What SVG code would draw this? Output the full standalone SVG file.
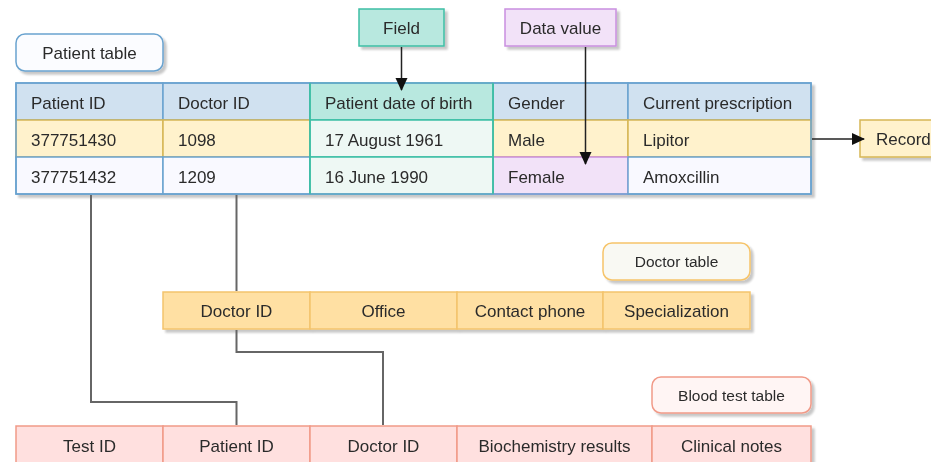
<svg xmlns="http://www.w3.org/2000/svg" width="931" height="462" viewBox="0 0 931 462">
  <defs>
    <filter id="shadow" x="-5%" y="-5%" width="115%" height="130%">
      <feGaussianBlur in="SourceAlpha" stdDeviation="1.2"/>
      <feOffset dx="2.5" dy="2.5" result="off"/>
      <feComponentTransfer><feFuncA type="linear" slope="0.22"/></feComponentTransfer>
      <feMerge><feMergeNode/><feMergeNode in="SourceGraphic"/></feMerge>
    </filter>
    <marker id="arrow" viewBox="0 0 13 13" refX="12" refY="6.5" markerWidth="13" markerHeight="13" markerUnits="userSpaceOnUse" orient="auto">
      <path d="M0,0.5 L13,6.5 L0,12.5 Z" fill="#111"/>
    </marker>
  </defs>
  <style>
    text { font-family: "Liberation Sans", Arial, sans-serif; font-size: 17px; fill: #2b2b2b; }
    .c { text-anchor: middle; }
    .small { font-size: 15.5px; }
    .hdr { fill: #d0e1f0; stroke: #6aa3cf; stroke-width: 1.5; }
    .r1 { fill: #fff2cc; stroke: #d6b656; stroke-width: 1.5; }
    .r2 { fill: #f9f9ff; stroke: #6aa3cf; stroke-width: 1.5; }
    .tealH { fill: #b8e8df; stroke: #3dbea5; stroke-width: 1.5; }
    .tealB { fill: #eef8f4; stroke: #3dbea5; stroke-width: 1.5; }
    .purp { fill: #f2e2f8; stroke: #c98fdf; stroke-width: 1.5; }
    .doc { fill: #ffe0a3; stroke: #f4c46c; stroke-width: 1.5; }
    .docL { fill: #f9f9f3; stroke: #f6c46a; stroke-width: 1.5; }
    .blood { fill: #ffe0df; stroke: #f19a88; stroke-width: 1.5; }
    .bloodL { fill: #fff5f4; stroke: #f19a88; stroke-width: 1.5; }
    .patL { fill: #fbfcff; stroke: #6aa3cf; stroke-width: 1.5; }
    .link { fill: none; stroke: #666; stroke-width: 2; }
    .arr { fill: none; stroke: #222; stroke-width: 1.5; marker-end: url(#arrow); }
  </style>

  <!-- patient table caption -->
  <g id="patient-label" filter="url(#shadow)">
    <rect class="patL" x="16" y="34" width="147" height="37" rx="9"/>
    <text class="c" x="89.5" y="58.5">Patient table</text>
  </g>

  <!-- callouts -->
  <g id="field" filter="url(#shadow)">
    <rect class="tealH" x="359" y="9" width="85" height="37"/>
    <text class="c" x="401.5" y="33.5">Field</text>
  </g>
  <g id="data-value" filter="url(#shadow)">
    <rect class="purp" x="505" y="9" width="111" height="37"/>
    <text class="c" x="560.5" y="33.5">Data value</text>
  </g>
  <g id="record" filter="url(#shadow)">
    <rect class="r1" x="860" y="120" width="80" height="37"/>
    <text x="876" y="145">Record</text>
  </g>

  <!-- patient table -->
  <g id="patient-table" filter="url(#shadow)">
    <rect class="hdr" x="16" y="83" width="147" height="37"/>
    <rect class="hdr" x="163" y="83" width="147" height="37"/>
    <rect class="hdr" x="493" y="83" width="135" height="37"/>
    <rect class="hdr" x="628" y="83" width="183" height="37"/>
    <rect class="r1" x="16" y="120" width="147" height="37"/>
    <rect class="r1" x="163" y="120" width="147" height="37"/>
    <rect class="r1" x="493" y="120" width="135" height="37"/>
    <rect class="r1" x="628" y="120" width="183" height="37"/>
    <rect class="r2" x="16" y="157" width="147" height="37"/>
    <rect class="r2" x="163" y="157" width="147" height="37"/>
    <rect class="purp" x="493" y="157" width="135" height="37"/>
    <rect class="r2" x="628" y="157" width="183" height="37"/>
    <rect class="tealH" x="310" y="83" width="183" height="37"/>
    <rect class="tealB" x="310" y="120" width="183" height="37"/>
    <rect class="tealB" x="310" y="157" width="183" height="37"/>
    <rect x="16" y="83" width="795" height="111" fill="none" stroke="#6aa3cf" stroke-width="1.5"/>
    <line x1="310" y1="83" x2="310" y2="194" stroke="#3dbea5" stroke-width="1.5"/>
    <line x1="493" y1="83" x2="493" y2="194" stroke="#3dbea5" stroke-width="1.5"/>
    <text x="31" y="108.5">Patient ID</text>
    <text x="178" y="108.5">Doctor ID</text>
    <text x="325" y="108.5">Patient date of birth</text>
    <text x="508" y="108.5">Gender</text>
    <text x="643" y="108.5">Current prescription</text>
    <text x="31" y="145.5">377751430</text>
    <text x="178" y="145.5">1098</text>
    <text x="325" y="145.5">17 August 1961</text>
    <text x="508" y="145.5">Male</text>
    <text x="643" y="145.5">Lipitor</text>
    <text x="31" y="182.5">377751432</text>
    <text x="178" y="182.5">1209</text>
    <text x="325" y="182.5">16 June 1990</text>
    <text x="508" y="182.5">Female</text>
    <text x="643" y="182.5">Amoxcillin</text>
  </g>

  <!-- doctor table -->
  <g id="doctor-label" filter="url(#shadow)">
    <rect class="docL" x="603" y="243" width="147" height="37" rx="9"/>
    <text class="c small" x="676.5" y="267">Doctor table</text>
  </g>
  <g id="doctor-table" filter="url(#shadow)">
    <rect class="doc" x="163" y="292" width="147" height="37"/>
    <rect class="doc" x="310" y="292" width="147" height="37"/>
    <rect class="doc" x="457" y="292" width="146" height="37"/>
    <rect class="doc" x="603" y="292" width="147" height="37"/>
    <text class="c" x="236.5" y="317">Doctor ID</text>
    <text class="c" x="383.5" y="317">Office</text>
    <text class="c" x="530" y="317">Contact phone</text>
    <text class="c" x="676.5" y="317">Specialization</text>
  </g>

  <!-- blood test table -->
  <g id="blood-label" filter="url(#shadow)">
    <rect class="bloodL" x="652" y="377" width="159" height="36" rx="9"/>
    <text class="c small" x="731.5" y="401">Blood test table</text>
  </g>
  <g id="blood-table" filter="url(#shadow)">
    <rect class="blood" x="16" y="426" width="147" height="40"/>
    <rect class="blood" x="163" y="426" width="147" height="40"/>
    <rect class="blood" x="310" y="426" width="147" height="40"/>
    <rect class="blood" x="457" y="426" width="195" height="40"/>
    <rect class="blood" x="652" y="426" width="159" height="40"/>
    <text class="c" x="89.5" y="452">Test ID</text>
    <text class="c" x="236.5" y="452">Patient ID</text>
    <text class="c" x="383.5" y="452">Doctor ID</text>
    <text class="c" x="554.5" y="452">Biochemistry results</text>
    <text class="c" x="731.5" y="452">Clinical notes</text>
  </g>

  <!-- connectors: key links between tables and callout arrows -->
  <g id="connectors">
    <polyline class="link" points="91,195 91,402 236.5,402 236.5,425"/>
    <line class="link" x1="236.5" y1="195" x2="236.5" y2="291"/>
    <polyline class="link" points="236.5,330 236.5,352 383,352 383,425"/>
    <line class="arr" x1="401.5" y1="47" x2="401.5" y2="90"/>
    <line class="arr" x1="585.5" y1="47" x2="585.5" y2="164"/>
    <line class="arr" x1="812" y1="139" x2="864" y2="139"/>
  </g>
</svg>
